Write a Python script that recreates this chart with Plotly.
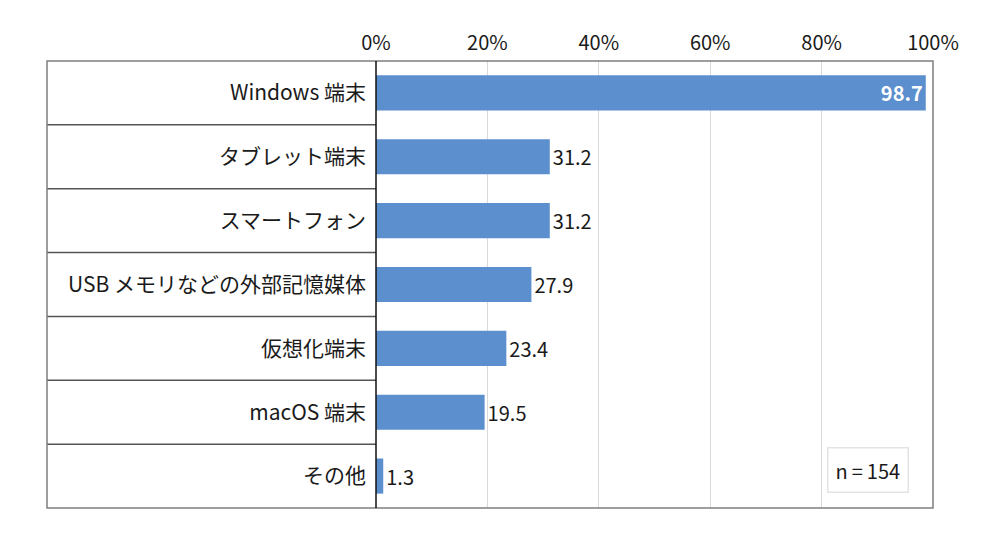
import plotly.graph_objects as go

# categories and values (%)
categories = [
    "Windows 端末",
    "タブレット端末",
    "スマートフォン",
    "USB メモリなどの外部記憶媒体",
    "仮想化端末",
    "macOS 端末",
    "その他",
]
values = [98.7, 31.2, 31.2, 27.9, 23.4, 19.5, 1.3]
tick_vals = [0, 20, 40, 60, 80, 100]
tick_text = ["0%", "20%", "40%", "60%", "80%", "100%"]
n_label = "n\u2009=\u2009154"

FONT = "Noto Sans CJK JP"
BAR = "#5b8fcd"
# page body has an 8px offset, margins compensate for it
L, R, T, B = 39, 75, 53, 40
PW, PH = 1000 - L - R, 540 - T - B
X0 = (376 - 47) / PW  # start of the bar area in paper coords

labels = [f"{v:.1f}" for v in values]
labels[0] = f"<b>{labels[0]}</b>"

fig = go.Figure(go.Bar(
    orientation="h",
    y=categories,
    x=values,
    marker={"color": BAR, "line": {"width": 0}},
    width=0.55,
    text=labels,
    textposition=["inside"] + ["outside"] * (len(values) - 1),
    insidetextanchor="end",
    textfont={"family": FONT, "size": 20,
              "color": ["white"] + ["#1a1a1a"] * (len(values) - 1)},
    cliponaxis=False,
    hoverinfo="skip",
))

# left "table" column: row separators
shapes = []
for i in range(len(categories) - 1):
    shapes.append(dict(type="line", xref="paper", yref="y",
                       x0=0, x1=X0, y0=i + 0.5, y1=i + 0.5,
                       line={"color": "#555555", "width": 1.5}))
# outer border
shapes.append(dict(type="rect", xref="paper", yref="paper",
                   x0=0, x1=1, y0=0, y1=1,
                   line={"color": "#7f7f7f", "width": 1.5}))
# 0% axis line
shapes.append(dict(type="line", xref="paper", yref="paper",
                   x0=X0, x1=X0, y0=0, y1=1,
                   line={"color": "#111111", "width": 1.5}))

fig.update_layout(
    width=1000, height=540,
    margin={"l": L, "r": R, "t": T, "b": B},
    plot_bgcolor="white",
    paper_bgcolor="white",
    showlegend=False,
    font={"family": FONT, "size": 20, "color": "#1a1a1a"},
    xaxis={
        "domain": [X0, 1],
        "range": [0, 100],
        "side": "top",
        "tickvals": tick_vals,
        "ticktext": tick_text,
        "showgrid": True,
        "gridcolor": "#d9d9d9",
        "gridwidth": 1,
        "zeroline": False,
        "showline": False,
        "ticks": "",
        "ticklabelstandoff": 6,
        "tickfont": {"size": 20},
        "fixedrange": True,
    },
    yaxis={
        "autorange": "reversed",
        "showgrid": False,
        "zeroline": False,
        "showline": False,
        "ticks": "",
        "ticklabelstandoff": 9,
        "tickfont": {"size": 21},
        "fixedrange": True,
    },
    shapes=shapes,
    annotations=[dict(
        text=n_label, xref="paper", yref="paper",
        x=(868 - 47) / PW, y=(508 - 470) / PH,
        xanchor="center", yanchor="middle",
        showarrow=False,
        font={"family": FONT, "size": 20, "color": "#1a1a1a"},
        bordercolor="#e3e3e3", borderwidth=1.5, borderpad=7,
        bgcolor="white",
    )],
)

fig.write_html("out.html")
